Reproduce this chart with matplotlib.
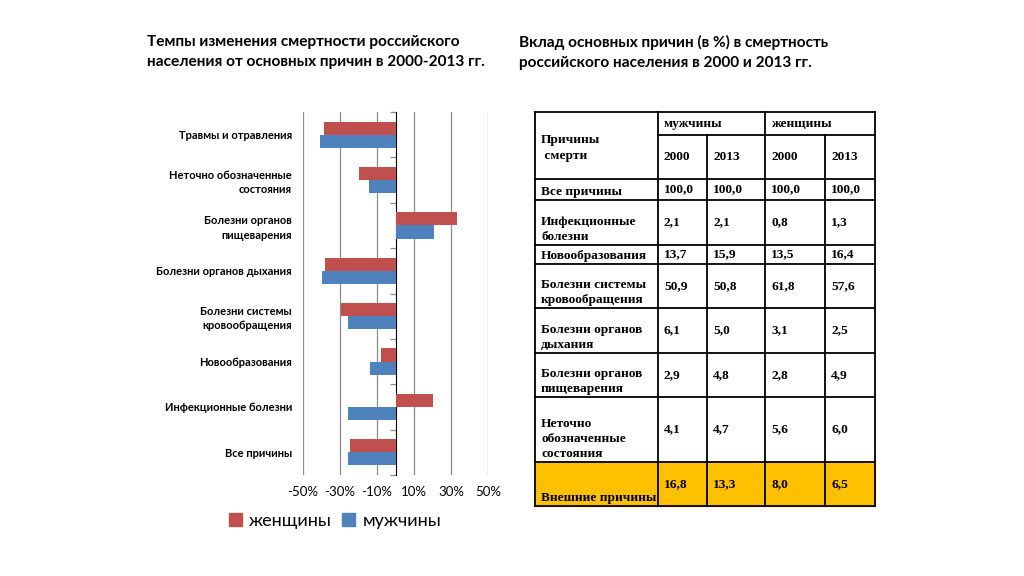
import matplotlib
matplotlib.use("Agg")
import matplotlib.pyplot as plt
from matplotlib.patches import Patch, Rectangle
import numpy as np

plt.rcParams['font.family'] = ['Lato', 'DejaVu Sans']

# Chart: rate of change of mortality 2000-2013, %
chart_causes = ["Все причины", "Инфекционные болезни", "Новообразования",
                "Болезни системы\nкровообращения", "Болезни органов дыхания",
                "Болезни органов\nпищеварения", "Неточно обозначенные\nсостояния",
                "Травмы и отравления"]
women_change = [-24.5, 20.2, -8.0, -29.7, -38.2, 33.3, -19.8, -38.7]
men_change = [-25.8, -25.8, -13.7, -25.8, -39.5, 21.0, -14.4, -41.0]
x_ticks = [-50, -30, -10, 10, 30, 50]

# Table: share of main causes, %
table_causes = ["Все причины", "Инфекционные\nболезни", "Новообразования",
                "Болезни системы\nкровообращения", "Болезни органов\nдыхания",
                "Болезни органов\nпищеварения", "Неточно\nобозначенные\nсостояния",
                "Внешние причины"]
men_2000 = [100.0, 2.1, 13.7, 50.9, 6.1, 2.9, 4.1, 16.8]
men_2013 = [100.0, 2.1, 15.9, 50.8, 5.0, 4.8, 4.7, 13.3]
women_2000 = [100.0, 0.8, 13.5, 61.8, 3.1, 2.8, 5.6, 8.0]
women_2013 = [100.0, 1.3, 16.4, 57.6, 2.5, 4.9, 6.0, 6.5]
years = ["2000", "2013", "2000", "2013"]

RED = '#C0504D'
BLUE = '#4F81BD'
GRID = '#8C8C8C'

fig = plt.figure(figsize=(10.24, 5.76), dpi=100)

# ---- bar chart
ax = fig.add_axes([303 / 1024, 1 - 475 / 576, 185 / 1024, 363 / 576])
y = np.arange(len(chart_causes))
h = 0.29
ax.barh(y + h / 2, women_change, height=h, color=RED, zorder=3)
ax.barh(y - h / 2, men_change, height=h, color=BLUE, zorder=3)
ax.set_xlim(-50, 50)
ax.set_ylim(-0.5, len(chart_causes) - 0.5)
ax.set_xticks(x_ticks)
ax.set_xticklabels([f"{t}%" for t in x_ticks], fontsize=9.5)
ax.set_yticks(y)
ax.set_yticklabels(chart_causes, fontsize=8, fontweight='bold', linespacing=1.35)
ax.tick_params(axis='both', length=0)
ax.tick_params(axis='x', pad=8)
ax.tick_params(axis='y', pad=8)
ax.grid(axis='x', color=GRID, lw=0.9, zorder=0)
for s in ax.spines.values():
    s.set_visible(False)

# axis line at zero with category tick marks
sec = ax.secondary_yaxis(0.5)
sec.yaxis.set_ticks_position('left')
sec.set_yticks(np.arange(-0.5, len(chart_causes), 1))
sec.set_yticklabels([])
sec.tick_params(length=4, color=GRID, width=0.9, direction='out')
sec.spines['left'].set_color(GRID)
sec.spines['left'].set_linewidth(0.9)

handles = [Patch(color=RED, label='женщины'), Patch(color=BLUE, label='мужчины')]
fig.legend(handles=handles, loc='center', bbox_to_anchor=(335 / 1024, 1 - 521 / 576),
           ncol=2, frameon=False, fontsize=13, handlelength=0.7, handleheight=0.7,
           handletextpad=0.4, columnspacing=0.6)

# ---- overlay in pixel coordinates for titles and table
ov = fig.add_axes([0, 0, 1, 1])
ov.set_xlim(0, 1024)
ov.set_ylim(576, 0)
ov.axis('off')

ov.text(147, 52, "Темпы изменения смертности российского\nнаселения от основных причин в 2000-2013 гг.",
        fontsize=11.1, fontweight='bold', va='center', ha='left', linespacing=1.55)
ov.text(519, 52, "Вклад основных причин (в %) в смертность\nроссийского населения в 2000 и 2013 гг.",
        fontsize=11.1, fontweight='bold', va='center', ha='left', linespacing=1.55)

col_edges = [535, 658, 707, 765, 825, 875]
row_edges = [179, 200, 245, 264, 308, 353, 397, 462, 506]
top, sub = 112, 135
lw = 1.3
serif = dict(family='Liberation Serif', fontweight='bold', fontsize=9.6)

ov.add_patch(Rectangle((col_edges[0], row_edges[-2]), col_edges[-1] - col_edges[0],
                       row_edges[-1] - row_edges[-2], color='#FFC000', zorder=1))
ov.plot([col_edges[0], col_edges[-1]], [top, top], color='k', lw=lw)
ov.plot([col_edges[1], col_edges[-1]], [sub, sub], color='k', lw=lw)
for r in row_edges:
    ov.plot([col_edges[0], col_edges[-1]], [r, r], color='k', lw=lw)
for i, c in enumerate(col_edges):
    y0 = sub if i in (2, 4) else top
    ov.plot([c, c], [y0, row_edges[-1]], color='k', lw=lw)

ov.text(541, 148, "Причины\n смерти", va='center', ha='left', linespacing=1.4, **serif)
ov.text(664, 124, "мужчины", va='center', ha='left', **serif)
ov.text(771, 124, "женщины", va='center', ha='left', **serif)
for j, yr in enumerate(years):
    ov.text(col_edges[j + 1] + 6, 157, yr, va='center', ha='left', **serif)

cols = [men_2000, men_2013, women_2000, women_2013]
for i, cause in enumerate(table_causes):
    r0, r1 = row_edges[i], row_edges[i + 1]
    ov.text(541, r1 - 2, cause, va='bottom', ha='left', linespacing=1.35, **serif)
    ym = (r0 + r1) / 2
    if i == len(table_causes) - 1:
        ym = 484
    for j, col in enumerate(cols):
        ov.text(col_edges[j + 1] + 6, ym, f"{col[i]:.1f}".replace('.', ','),
                va='center', ha='left', **serif)

fig.savefig('out.png', dpi=100)
